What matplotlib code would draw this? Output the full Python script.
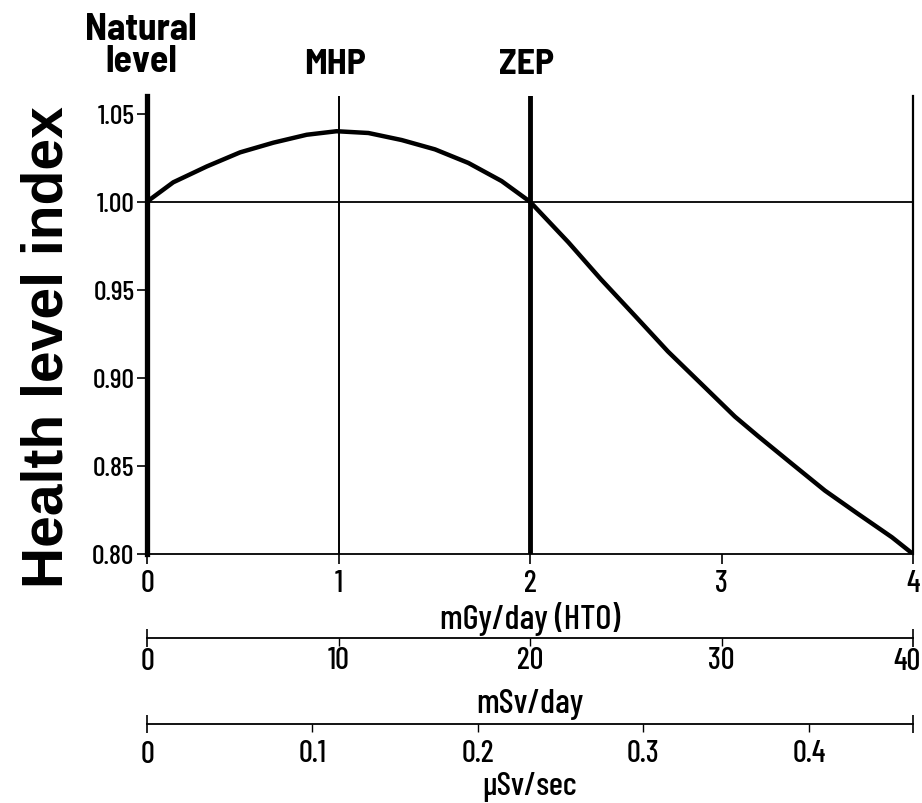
import numpy as np
import matplotlib
matplotlib.use("Agg")
import matplotlib.pyplot as plt
from matplotlib.transforms import ScaledTranslation

NARROW = ['Barlow Condensed', 'Liberation Sans', 'DejaVu Sans']
SEMI = ['Barlow Semi Condensed', 'Barlow Condensed', 'Liberation Sans', 'DejaVu Sans']
plt.rcParams['font.family'] = NARROW

# Dose (mGy/day, HTO) vs health level index
dose = [0.0, 0.137, 0.312, 0.486, 0.660, 0.834, 0.99, 1.156, 1.33, 1.504, 1.678, 1.852, 2.0,
        2.20, 2.37, 2.55, 2.72, 2.90, 3.07, 3.19, 3.37, 3.54, 3.71, 3.89, 4.0]
health = [1.000, 1.011, 1.020, 1.028, 1.0335, 1.038, 1.040, 1.039, 1.035, 1.0297, 1.022, 1.0117, 1.000,
          0.977, 0.956, 0.935, 0.915, 0.896, 0.878, 0.867, 0.851, 0.836, 0.823, 0.8095, 0.800]

# reference points marked on top
mark_x = [0, 1, 2]
mark_labels = ["Natural\nlevel", "MHP", "ZEP"]

y_ticks = [0.80, 0.85, 0.90, 0.95, 1.00, 1.05]
x_ticks = [0, 1, 2, 3, 4]

msv_ticks = [10, 20, 30]
usv_ticks = [0.1, 0.2, 0.3, 0.4]

# conversions: 1 mGy/day (HTO) -> 10 mSv/day -> uSv/sec
MSV_PER_MGY = 10.0
USV_PER_MGY = MSV_PER_MGY * 1000.0 / 86400.0

fig = plt.figure(figsize=(9.22, 8.04), dpi=100)
ax = fig.add_axes([147 / 922, 1 - 555 / 804, (913 - 147) / 922, (555 - 97) / 804])

ax.plot(dose, health, color='black', lw=3.2, solid_capstyle='round', solid_joinstyle='round')
ax.axhline(1.0, color='black', lw=1.3)
ax.axvline(mark_x[1], color='black', lw=1.4)
ax.axvline(mark_x[2], color='black', lw=3.5)

ax.set_xlim(0, 4)
ax.set_ylim(0.80, 1.06)

ax.spines['top'].set_visible(False)
ax.spines['left'].set_linewidth(3.8)
ax.spines['right'].set_linewidth(1.6)
ax.spines['bottom'].set_linewidth(1.3)

ax.set_yticks(y_ticks, labels=[f"{v:.2f}" for v in y_ticks])
ax.set_xticks(x_ticks, labels=[str(v) for v in x_ticks])
ax.tick_params(axis='y', direction='out', length=7, width=1.2, labelsize=20, pad=2)
ax.tick_params(axis='x', direction='out', length=7, width=1.2, labelsize=22, pad=4)
for t in ax.get_xticklabels() + ax.get_yticklabels():
    t.set_fontweight(500)

ax.set_ylabel("Health level index", family=['Liberation Sans', 'DejaVu Sans'],
              fontweight='bold', fontsize=41)
ax.yaxis.set_label_coords(-0.094, 0.454)
ax.set_xlabel("mGy/day (HTO)", fontsize=25, fontweight=500, labelpad=3)

for x, lab in zip(mark_x, mark_labels):
    if x == 0:
        ax.text(x - 0.03, 1.04, lab, transform=ax.get_xaxis_transform(), ha='center', va='bottom',
                fontsize=27, fontweight='bold', linespacing=0.92, family=SEMI)
    else:
        ax.text(x - 0.02, 1.036, lab, transform=ax.get_xaxis_transform(), ha='center', va='bottom',
                fontsize=26, fontweight='bold', family=SEMI)

# mSv/day scale
sec1 = ax.secondary_xaxis(-0.1836, functions=(lambda d: d * MSV_PER_MGY, lambda s: s / MSV_PER_MGY))
sec1.set_xticks([0, 4 * MSV_PER_MGY], labels=['0', '40'])
sec1.set_xticks(msv_ticks, labels=[str(v) for v in msv_ticks], minor=True)
sec1.tick_params(axis='x', which='major', direction='inout', length=13, width=1.2, labelsize=22, pad=0)
sec1.tick_params(axis='x', which='minor', direction='out', length=6, width=1.0, labelsize=22, pad=0)
sec1.spines['bottom'].set_linewidth(1.3)
sec1.set_xlabel("mSv/day", fontsize=25, fontweight=500, labelpad=9)

# uSv/sec scale
usv_end = 4 * USV_PER_MGY
sec2 = ax.secondary_xaxis(-0.3715, functions=(lambda d: d * USV_PER_MGY, lambda u: u / USV_PER_MGY))
sec2.set_xticks([0, usv_end], labels=['0', ''])
sec2.set_xticks(usv_ticks, labels=[f"{v:.1f}" for v in usv_ticks], minor=True)
sec2.tick_params(axis='x', which='major', direction='inout', length=13, width=1.2, labelsize=22, pad=5)
sec2.tick_params(axis='x', which='minor', direction='out', length=6, width=1.0, labelsize=22, pad=5)
sec2.spines['bottom'].set_linewidth(1.3)
sec2.set_xlabel("\u03bcSv/sec", fontsize=24, fontweight=500, labelpad=2)

for s in (sec1, sec2):
    for t in s.get_xticklabels(which='both'):
        t.set_fontweight(500)

# nudge the "40" label left so it stays inside the picture
end_tick = sec1.xaxis.get_major_ticks()[-1]
end_tick.label1.set_transform(end_tick.label1.get_transform()
                              + ScaledTranslation(-6 / 100, 0, fig.dpi_scale_trans))

fig.savefig("out.png", dpi=100)
